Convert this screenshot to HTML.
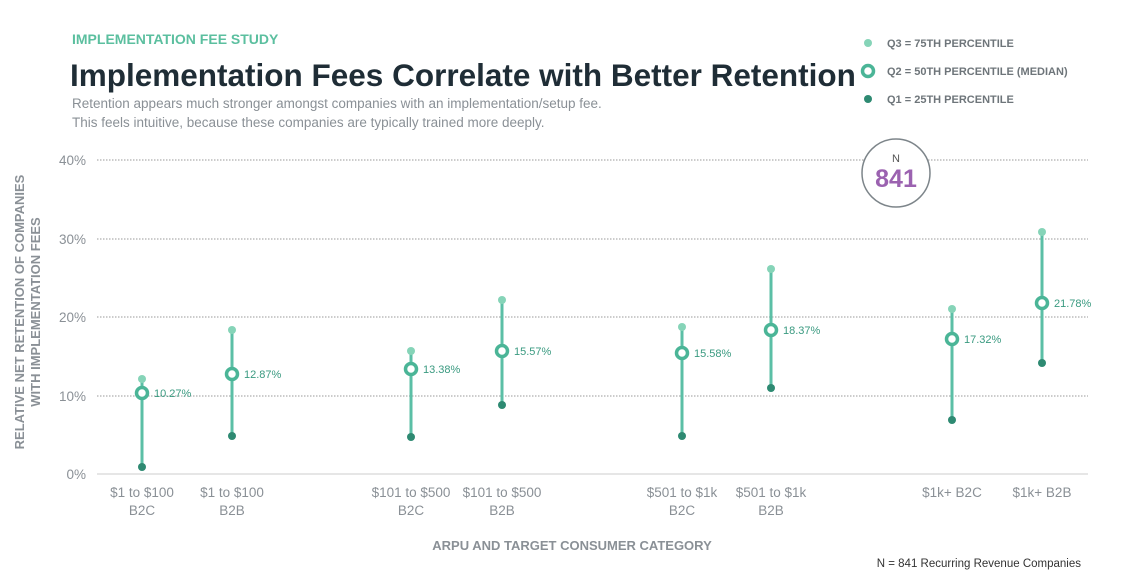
<!DOCTYPE html>
<html><head><meta charset="utf-8"><style>
body{margin:0;background:#fff;}
svg{display:block;font-family:"Liberation Sans",sans-serif;}
</style></head><body>
<svg width="1131" height="579" viewBox="0 0 1131 579" xmlns="http://www.w3.org/2000/svg">
<text x="72" y="44" font-size="14" font-weight="bold" fill="#5bbf9f">IMPLEMENTATION FEE STUDY</text>
<text x="70" y="86" font-size="31.5" font-weight="bold" fill="#1f2d36">Implementation Fees Correlate with Better Retention</text>
<text x="72" y="108" font-size="13.5" fill="#8a9096">Retention appears much stronger amongst companies with an implementation/setup fee.</text>
<text x="72" y="127" font-size="13.5" fill="#8a9096">This feels intuitive, because these companies are typically trained more deeply.</text>
<g font-size="11" font-weight="bold" fill="#6e757a">
<circle cx="868" cy="43" r="4" fill="#86d4b8"/><text x="887" y="47">Q3 = 75TH PERCENTILE</text>
<circle cx="868" cy="71" r="5.5" fill="none" stroke="#4bb597" stroke-width="3.5"/><text x="887" y="75">Q2 = 50TH PERCENTILE (MEDIAN)</text>
<circle cx="868" cy="99" r="4" fill="#2e8a72"/><text x="887" y="103">Q1 = 25TH PERCENTILE</text>
</g>
<g stroke="#999" stroke-width="1" stroke-dasharray="1.5,1.5">
<line x1="97" y1="160" x2="1088" y2="160"/>
<line x1="97" y1="239" x2="1088" y2="239"/>
<line x1="97" y1="317" x2="1088" y2="317"/>
<line x1="97" y1="396" x2="1088" y2="396"/>
</g>
<line x1="97" y1="474" x2="1088" y2="474" stroke="#ddd" stroke-width="1.5"/>
<circle cx="896" cy="173" r="34" fill="#fff" stroke="#7d858a" stroke-width="1.5"/>
<text x="896" y="162" font-size="11" fill="#555" text-anchor="middle">N</text>
<text x="896" y="187" font-size="25" font-weight="bold" fill="#9b62b0" text-anchor="middle">841</text>
<g font-size="13.5" fill="#8a9096" text-anchor="end">
<text x="86" y="165">40%</text><text x="86" y="244">30%</text><text x="86" y="322">20%</text><text x="86" y="401">10%</text><text x="86" y="479">0%</text>
</g>
<text transform="translate(24,312) rotate(-90)" font-size="13" font-weight="bold" fill="#8a9096" text-anchor="middle">RELATIVE NET RETENTION OF COMPANIES</text>
<text transform="translate(40,312) rotate(-90)" font-size="13" font-weight="bold" fill="#8a9096" text-anchor="middle">WITH IMPLEMENTATION FEES</text>
<g>
<g stroke="#5bbfa6" stroke-width="3">
<line x1="142" y1="379" x2="142" y2="467"/><line x1="232" y1="330" x2="232" y2="436"/>
<line x1="411" y1="351" x2="411" y2="437"/><line x1="502" y1="300" x2="502" y2="405"/>
<line x1="682" y1="327" x2="682" y2="436"/><line x1="771" y1="269" x2="771" y2="388"/>
<line x1="952" y1="309" x2="952" y2="420"/><line x1="1042" y1="232" x2="1042" y2="363"/>
</g>
<g fill="#86d4b8">
<circle cx="142" cy="379" r="4"/><circle cx="232" cy="330" r="4"/><circle cx="411" cy="351" r="4"/><circle cx="502" cy="300" r="4"/>
<circle cx="682" cy="327" r="4"/><circle cx="771" cy="269" r="4"/><circle cx="952" cy="309" r="4"/><circle cx="1042" cy="232" r="4"/>
</g>
<g fill="#2e8a72">
<circle cx="142" cy="467" r="4"/><circle cx="232" cy="436" r="4"/><circle cx="411" cy="437" r="4"/><circle cx="502" cy="405" r="4"/>
<circle cx="682" cy="436" r="4"/><circle cx="771" cy="388" r="4"/><circle cx="952" cy="420" r="4"/><circle cx="1042" cy="363" r="4"/>
</g>
<g fill="#fff" stroke="#4bb597" stroke-width="3.5">
<circle cx="142" cy="393" r="5.5"/><circle cx="232" cy="374" r="5.5"/><circle cx="411" cy="369" r="5.5"/><circle cx="502" cy="351" r="5.5"/>
<circle cx="682" cy="353" r="5.5"/><circle cx="771" cy="330" r="5.5"/><circle cx="952" cy="339" r="5.5"/><circle cx="1042" cy="303" r="5.5"/>
</g>
<g font-size="11" fill="#3a9a80">
<text x="154" y="397">10.27%</text><text x="244" y="378">12.87%</text><text x="423" y="373">13.38%</text><text x="514" y="355">15.57%</text>
<text x="694" y="357">15.58%</text><text x="783" y="334">18.37%</text><text x="964" y="343">17.32%</text><text x="1054" y="307">21.78%</text>
</g>
</g>
<g font-size="13.5" fill="#8a9096" text-anchor="middle">
<text x="142" y="497">$1 to $100</text><text x="142" y="515">B2C</text>
<text x="232" y="497">$1 to $100</text><text x="232" y="515">B2B</text>
<text x="411" y="497">$101 to $500</text><text x="411" y="515">B2C</text>
<text x="502" y="497">$101 to $500</text><text x="502" y="515">B2B</text>
<text x="682" y="497">$501 to $1k</text><text x="682" y="515">B2C</text>
<text x="771" y="497">$501 to $1k</text><text x="771" y="515">B2B</text>
<text x="952" y="497">$1k+ B2C</text>
<text x="1042" y="497">$1k+ B2B</text>
</g>
<text x="572" y="550" font-size="13" font-weight="bold" fill="#8a9096" text-anchor="middle">ARPU AND TARGET CONSUMER CATEGORY</text>
<text x="1081" y="567" font-size="11.5" fill="#333" text-anchor="end">N = 841 Recurring Revenue Companies</text>
</svg>
</body></html>
